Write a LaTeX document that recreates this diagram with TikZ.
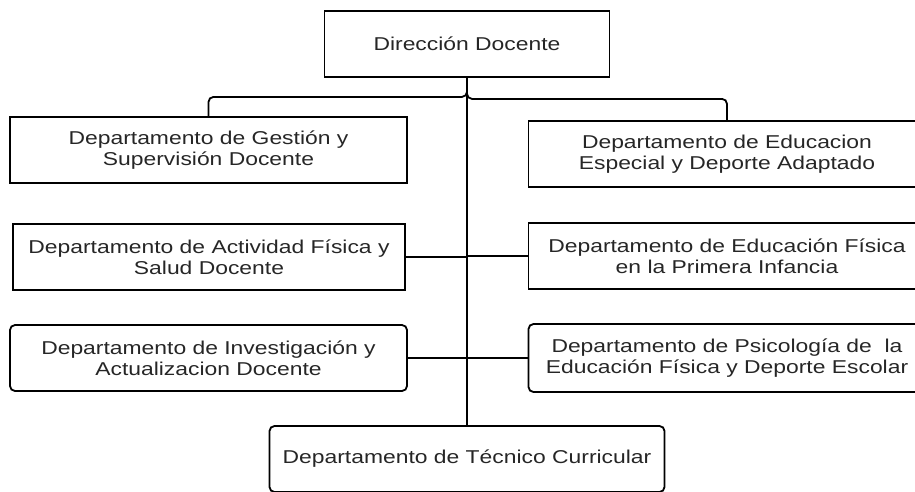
\documentclass[tikz,border=0pt]{standalone}
\usepackage{fontspec}
\setmainfont[FakeStretch=1.23]{Liberation Sans}
\begin{document}
\begin{tikzpicture}[x=1pt,y=-1pt,
  box/.style={draw,line width=1.8pt,minimum width=397pt,minimum height=66pt,
    inner sep=0pt,align=center,text=black!85,font=\fontsize{18.6}{20.5}\selectfont},
  rbox/.style={box,rounded corners=5pt},
  conn/.style={draw,line width=1.8pt}]
\clip (0,0) rectangle (915,491);
\node[box,minimum width=285pt] (dir) at (467,44) {Dirección Docente};
\node[box] (gest) at (208.5,150) {Departamento de Gestión y\\Supervisión Docente};
\node[box] (espe) at (727,154) {Departamento de Educacion\\Especial y Deporte Adaptado};
\node[box,minimum width=392pt] (act) at (209,257) {Departamento de Actividad Física y\\Salud Docente};
\node[box] (inf) at (727,256) {Departamento de Educación Física\\en la Primera Infancia};
\node[rbox] (inv) at (208.5,358) {Departamento de Investigación y\\Actualizacion Docente};
\node[rbox,minimum height=68pt] (psi) at (727,358) {Departamento de Psicología de~ la\\Educación Física y Deporte Escolar};
\node[rbox,minimum width=395pt] (tec) at (467,459) {Departamento de Técnico Curricular};
% trunk and branches
\draw[conn] (dir.south) -- (tec.north);
\draw[conn,rounded corners=5pt] (dir.south) -- ++(0,19) -| (gest.north);
\draw[conn,rounded corners=5pt] (dir.south) -- ++(0,21) -| (espe.north);
\draw[conn] (act.east) -- (act.east -| tec.north);
\draw[conn] (inf.west) -- (inf.west -| tec.north);
\draw[conn] (inv.east) -- (inv.east -| tec.north);
\draw[conn] (psi.west) -- (psi.west -| tec.north);
\end{tikzpicture}
\end{document}
